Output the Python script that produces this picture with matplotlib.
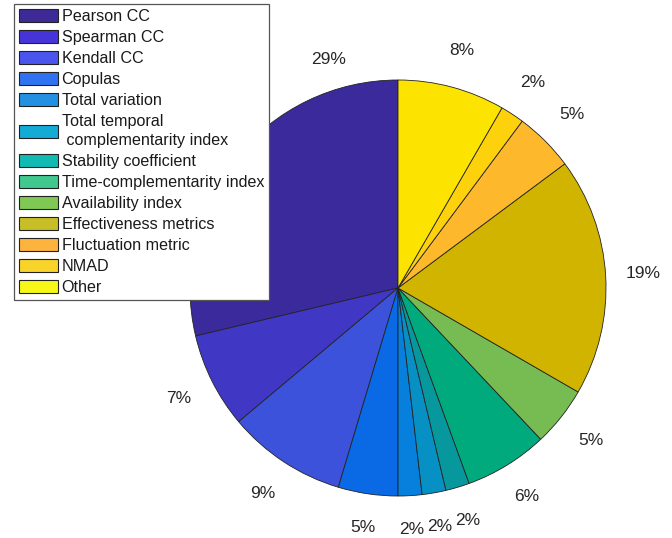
import numpy as np
import matplotlib
matplotlib.use("Agg")
import matplotlib.pyplot as plt
from matplotlib.patches import Patch
from matplotlib import font_manager

# number of studies using each metric (half counts where a study splits)
names = ["Pearson CC", "Spearman CC", "Kendall CC", "Copulas", "Total variation",
         "Total temporal\n complementarity index", "Stability coefficient",
         "Time-complementarity index", "Availability index", "Effectiveness metrics",
         "Fluctuation metric", "NMAD", "Other"]
counts = [15.5, 4, 5, 2.5, 1, 1, 1, 3.5, 2.5, 10, 2.5, 1, 4.5]

# slice colours (shaded) and legend swatch colours
slice_colors = ["#3B2A9C", "#4038C4", "#3D52DA", "#0A6AE6", "#0680DC", "#0690C4",
                "#07989E", "#00AA7C", "#76BC52", "#D1B400", "#FDB82C", "#FDD10C", "#FCE400"]
legend_colors = ["#3D2A96", "#4634D8", "#4A55EE", "#2F72F2", "#2390E2", "#14AAD6",
                 "#12BAB4", "#40C88E", "#80C854", "#C8BE28", "#FDB43E", "#F8D42A", "#F8F818"]

# pick the regular (not narrow) Liberation Sans
font_file = None
for f in font_manager.fontManager.ttflist:
    if f.name == "Liberation Sans" and f.style == "normal" and f.weight in (400, "normal") \
            and f.stretch in ("normal", 500):
        font_file = f.fname
        break
if font_file:
    def fp(size):
        return font_manager.FontProperties(fname=font_file, size=size)
else:
    def fp(size):
        return font_manager.FontProperties(family="DejaVu Sans", size=size)

W, H = 672, 538
cx, cy, R = 398, 288, 205  # pixels

fig = plt.figure(figsize=(W / 100, H / 100), dpi=100)
half = 260
ax = fig.add_axes([(cx - half) / W, 1 - (cy + half) / H, 2 * half / W, 2 * half / H])
lim = half / R
ax.set_xlim(-lim, lim)
ax.set_ylim(-lim, lim)
ax.set_aspect("equal")
ax.axis("off")

wedges, _ = ax.pie(counts, colors=slice_colors, startangle=90, counterclock=True,
                   radius=1.0, wedgeprops=dict(edgecolor="#222222", linewidth=0.6))

# percentage labels outside the pie
total = float(sum(counts))
angle = 90.0
for i, v in enumerate(counts):
    pct = 100.0 * v / total
    mid = np.deg2rad(angle + v / total * 180.0)
    angle += v / total * 360.0
    r = 1.18 if np.sin(mid) > -0.9 else 1.165
    if i == 0:
        # first label sits higher to stay clear of the legend
        mid = np.deg2rad(107)
        r = 1.15
    ax.text(r * np.cos(mid), r * np.sin(mid), "%d%%" % round(pct), ha="center", va="center",
            fontproperties=fp(12.5), color="#262626")

handles = [Patch(facecolor=c, edgecolor="#222222", linewidth=0.8) for c in legend_colors]
leg = fig.legend(handles, names, loc="upper left",
                 bbox_to_anchor=(14 / W, 1 - 4 / H), prop=fp(11.6),
                 frameon=True, fancybox=False, framealpha=1.0, edgecolor="#555555",
                 handlelength=2.4, handleheight=0.85, handletextpad=0.25,
                 labelspacing=0.37, borderpad=0.3, borderaxespad=0)
leg.get_frame().set_linewidth(0.9)
for t in leg.get_texts():
    t.set_color("#1a1a1a")
    t.set_linespacing(1.4)

fig.savefig("out.png", dpi=100)
